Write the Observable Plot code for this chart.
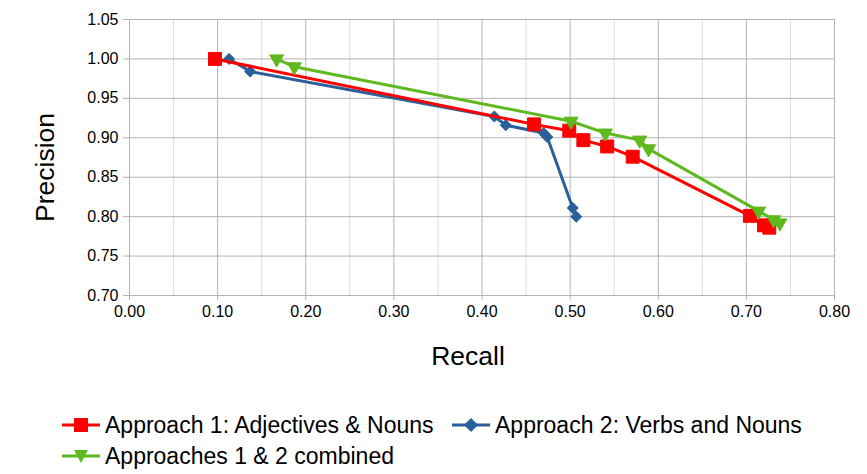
<!DOCTYPE html>
<html>
<head>
<meta charset="utf-8">
<script src="https://cdn.jsdelivr.net/npm/d3@7"></script>
<script src="https://cdn.jsdelivr.net/npm/@observablehq/plot@0.6"></script>
<style>
  html, body { margin: 0; padding: 0; background: #fff; }
  #wrap { position: relative; width: 867px; height: 474px; font-family: "Liberation Sans", Arial, sans-serif; }
  .leg { position: absolute; display: flex; align-items: center; font-size: 23px; color: #000; white-space: nowrap; }
  .leg svg { margin-right: 5px; }
</style>
</head>
<body>
<div id="wrap"></div>
<script>
// Data
const seriesNames = ["Approach 1: Adjectives & Nouns", "Approach 2: Verbs and Nouns", "Approaches 1 & 2 combined"];
const approach1Recall = [0.097, 0.459, 0.499, 0.515, 0.542, 0.571, 0.704, 0.720, 0.726];
const approach1Precision = [1.000, 0.917, 0.909, 0.897, 0.889, 0.876, 0.801, 0.789, 0.786];
const approach2Recall = [0.113, 0.137, 0.414, 0.427, 0.470, 0.474, 0.503, 0.507];
const approach2Precision = [1.000, 0.984, 0.927, 0.916, 0.906, 0.901, 0.811, 0.800];
const approach3Recall = [0.167, 0.187, 0.501, 0.540, 0.579, 0.589, 0.714, 0.731, 0.738];
const approach3Precision = [1.000, 0.990, 0.921, 0.906, 0.897, 0.886, 0.807, 0.796, 0.792];
const xTicks = [0, 0.1, 0.2, 0.3, 0.4, 0.5, 0.6, 0.7, 0.8];
const xMinorTicks = [0.05, 0.15, 0.25, 0.35, 0.45, 0.55, 0.65, 0.75];
const yTicks = [0.70, 0.75, 0.80, 0.85, 0.90, 0.95, 1.00, 1.05];

const colors = ["#ff0000", "#2a6099", "#5eb91e"];

const toRows = (xs, ys) => xs.map((x, i) => ({x, y: ys[i]}));
const s1 = toRows(approach1Recall, approach1Precision);
const s2 = toRows(approach2Recall, approach2Precision);
const s3 = toRows(approach3Recall, approach3Precision);

const fmt = d => d.toFixed(2);
const grid = "#b3b3b3";

const chart = Plot.plot({
  width: 867,
  height: 380,
  marginLeft: 129,
  marginRight: 33,
  marginTop: 19,
  marginBottom: 85,
  style: { fontFamily: "Liberation Sans, Arial, sans-serif", fontSize: "16px", color: "#000", background: "#fff" },
  x: { domain: [0, 0.8], label: null },
  y: { domain: [0.7, 1.05], label: null },
  marks: [
    Plot.gridX(xMinorTicks, { stroke: "#dddddd", strokeOpacity: 1 }),
    Plot.gridX(xTicks, { stroke: grid, strokeOpacity: 1 }),
    Plot.gridY(yTicks, { stroke: grid, strokeOpacity: 1 }),
    Plot.axisX(xTicks, { tickFormat: fmt, tickSize: 5, tickPadding: 5, stroke: grid, fill: "#000", label: null }),
    Plot.axisY(yTicks, { tickFormat: fmt, tickSize: 6, tickPadding: 5, stroke: grid, fill: "#000", label: null }),
    Plot.ruleX([0], { stroke: grid }),
    Plot.ruleY([0.7], { stroke: grid }),
    // Approach 2 (blue)
    Plot.line(s2, { x: "x", y: "y", stroke: colors[1], strokeWidth: 3 }),
    Plot.dot(s2, { x: "x", y: "y", symbol: "diamond2", r: 5, fill: colors[1], stroke: colors[1], strokeWidth: 1 }),
    // Approach 1 (red)
    Plot.line(s1, { x: "x", y: "y", stroke: colors[0], strokeWidth: 3 }),
    Plot.dot(s1, { x: "x", y: "y", symbol: "square", r: 7.3, fill: colors[0], stroke: colors[0], strokeWidth: 1 }),
    // Combined (green)
    Plot.line(s3, { x: "x", y: "y", stroke: colors[2], strokeWidth: 3 }),
    Plot.dot(s3, { x: "x", y: "y", symbol: "triangle", rotate: 180, r: 5.2, fill: colors[2], stroke: colors[2], strokeWidth: 1 }),
    // Axis titles
    Plot.text(["Recall"], { frameAnchor: "bottom", dx: -14, dy: 61, fontSize: 26.5, fill: "#000", lineAnchor: "middle" }),
    Plot.text(["Precision"], { frameAnchor: "left", dx: -84, dy: 10, rotate: -90, fontSize: 26.5, fill: "#000", lineAnchor: "middle", textAnchor: "middle" })
  ]
});

const wrap = document.getElementById("wrap");
wrap.appendChild(chart);

// Legend below the SVG
const legendPos = [
  { left: 62, top: 425 },
  { left: 452, top: 425 },
  { left: 62, top: 456 }
];
const markerShapes = [
  c => `<rect x="12" y="5" width="14" height="14" fill="${c}"/>`,
  c => `<path d="M19 5 L26 12 L19 19 L12 12 Z" fill="${c}"/>`,
  c => `<path d="M12 6 L26 6 L19 19 Z" fill="${c}"/>`
];
seriesNames.forEach((name, i) => {
  const d = document.createElement("div");
  d.className = "leg";
  d.style.left = legendPos[i].left + "px";
  d.style.top = (legendPos[i].top - 12) + "px";
  d.style.height = "24px";
  d.innerHTML = `<svg width="38" height="24"><line x1="0" x2="38" y1="12" y2="12" stroke="${colors[i]}" stroke-width="3"/>${markerShapes[i](colors[i])}</svg><span>${name}</span>`;
  wrap.appendChild(d);
});
</script>
</body>
</html>
